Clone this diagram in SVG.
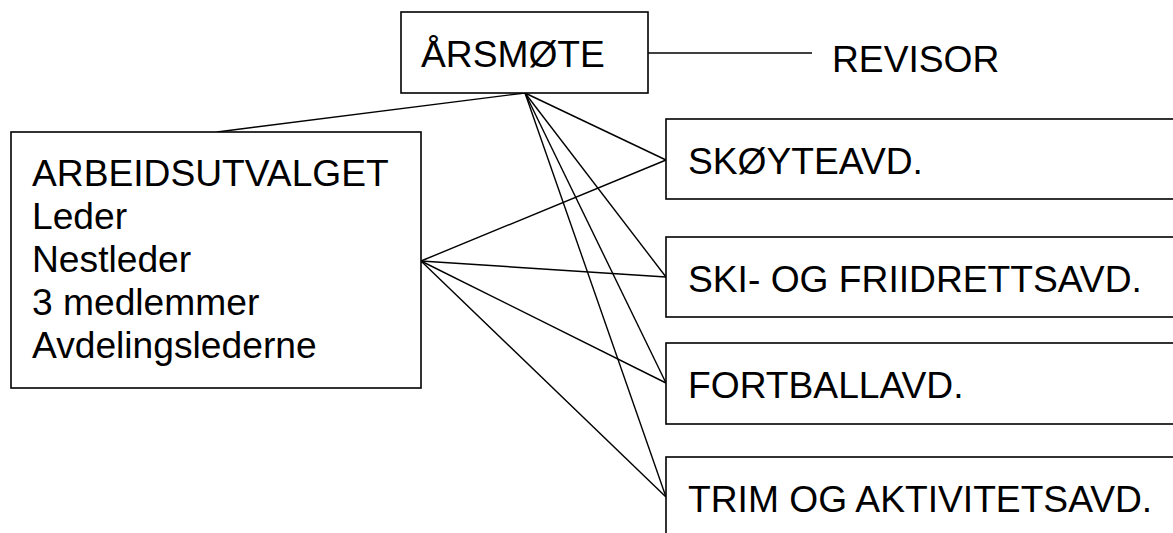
<svg xmlns="http://www.w3.org/2000/svg" width="1173" height="533" viewBox="0 0 1173 533">
  <style>
    .box { fill: #ffffff; stroke: #000000; stroke-width: 1.6; }
    .lbl { font-family: "Liberation Sans", Arial, sans-serif; font-size: 37.2px; fill: #000000; }
    .conn line { stroke: #000000; stroke-width: 1.4; }
  </style>
  <rect x="0" y="0" width="1173" height="533" fill="#ffffff"/>
  <g id="connectors" class="conn">
    <line x1="648" y1="53" x2="812" y2="53"/>
    <line x1="525" y1="93" x2="217" y2="132"/>
    <line x1="525" y1="93" x2="666" y2="160"/>
    <line x1="525" y1="93" x2="666" y2="277"/>
    <line x1="525" y1="93" x2="666" y2="383"/>
    <line x1="525" y1="93" x2="666" y2="497"/>
    <line x1="421" y1="261" x2="666" y2="160"/>
    <line x1="421" y1="261" x2="666" y2="277"/>
    <line x1="421" y1="261" x2="666" y2="383"/>
    <line x1="421" y1="261" x2="666" y2="497"/>
  </g>
  <g id="arsmote">
    <rect class="box" x="401" y="12" width="247" height="81"/>
    <text class="lbl" x="421" y="67">ÅRSMØTE</text>
  </g>
  <g id="revisor">
    <text class="lbl" x="832" y="72">REVISOR</text>
  </g>
  <g id="arbeidsutvalget">
    <rect class="box" x="11" y="132" width="410" height="256"/>
    <text class="lbl" x="32" y="186">ARBEIDSUTVALGET</text>
    <text class="lbl" x="32" y="229">Leder</text>
    <text class="lbl" x="32" y="272">Nestleder</text>
    <text class="lbl" x="32" y="315">3 medlemmer</text>
    <text class="lbl" x="32" y="358">Avdelingslederne</text>
  </g>
  <g id="skoyteavd">
    <rect class="box" x="666" y="119" width="520" height="80"/>
    <text class="lbl" x="688" y="174">SKØYTEAVD.</text>
  </g>
  <g id="skiavd">
    <rect class="box" x="666" y="237" width="520" height="80"/>
    <text class="lbl" x="688" y="292">SKI- OG FRIIDRETTSAVD.</text>
  </g>
  <g id="fotballavd">
    <rect class="box" x="666" y="343" width="520" height="81"/>
    <text class="lbl" x="688" y="398">FORTBALLAVD.</text>
  </g>
  <g id="trimavd">
    <rect class="box" x="666" y="457" width="520" height="81"/>
    <text class="lbl" x="688" y="512">TRIM OG AKTIVITETSAVD.</text>
  </g>
</svg>
